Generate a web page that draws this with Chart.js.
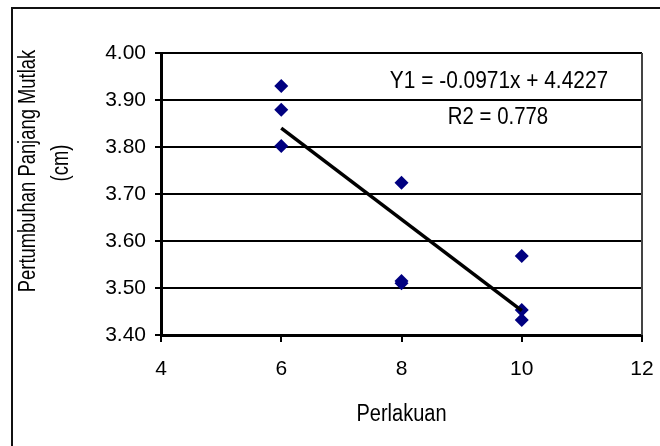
<!DOCTYPE html>
<html>
<head>
<meta charset="utf-8">
<script src="https://cdn.jsdelivr.net/npm/chart.js@4"></script>
<style>
  body { margin: 0; background: #fff; }
  #wrap { width: 660px; height: 446px; }
</style>
</head>
<body>
<div id="wrap"><canvas id="grafico" width="660" height="446"></canvas></div>
<script>
// data
const perlakuan = [6, 6, 6, 8, 8, 8, 10, 10, 10];
const panjang = [3.930, 3.879, 3.802, 3.724, 3.515, 3.510, 3.568, 3.453, 3.432];
const slope = -0.0971;
const intercept = 4.4227;
const trendX = [6, 10];
const yTicks = [3.40, 3.50, 3.60, 3.70, 3.80, 3.90, 4.00];
const xTicks = [4, 6, 8, 10, 12];
const eqText = "Y1 = -0.0971x + 4.4227";
const r2Text = "R2 = 0.778";
const xTitle = "Perlakuan";
const yTitle = ["Pertumbuhan Panjang Mutlak", "(cm)"];

const FONT = "'Liberation Sans', Arial, sans-serif";

// texto comprimido (como en el original)
function narrowText(ctx, txt, x, y, size, sx, rot) {
  ctx.save();
  ctx.translate(x, y);
  if (rot) ctx.rotate(rot);
  ctx.scale(sx, 1);
  ctx.font = size + "px " + FONT;
  ctx.fillStyle = "#000";
  ctx.textAlign = "center";
  ctx.textBaseline = "middle";
  ctx.fillText(txt, 0, 0);
  ctx.restore();
}

const extras = {
  id: "extras",
  beforeDraw(chart) {
    const ctx = chart.ctx;
    ctx.save();
    ctx.fillStyle = "#fff";
    ctx.fillRect(0, 0, chart.width, chart.height);
    ctx.strokeStyle = "#111";
    ctx.lineWidth = 2;
    ctx.strokeRect(12, 8, 800, 600);
    ctx.restore();
  },
  afterDraw(chart) {
    const ctx = chart.ctx;
    const a = chart.chartArea;
    ctx.save();
    ctx.strokeStyle = "#444";
    ctx.lineWidth = 2;
    ctx.beginPath();
    ctx.moveTo(a.right, a.top);
    ctx.lineTo(a.right, a.bottom);
    ctx.stroke();
    ctx.restore();
    narrowText(ctx, eqText, 499, 81, 24, 0.87);
    narrowText(ctx, r2Text, 498, 117, 24, 0.85);
    narrowText(ctx, xTitle, (a.left + a.right) / 2, 415, 23, 0.87);
    narrowText(ctx, yTitle[0], 29, 171, 23, 0.8, -Math.PI / 2);
    narrowText(ctx, yTitle[1], 62, 163, 23, 0.8, -Math.PI / 2);
  }
};

const ctx = document.getElementById("grafico").getContext("2d");
const chart = new Chart(ctx, {
  type: "scatter",
  data: {
    datasets: [
      {
        type: "line",
        label: "Tren",
        data: trendX.map((x) => ({ x: x, y: slope * x + intercept })),
        borderColor: "#000",
        borderWidth: 3.5,
        pointRadius: 0,
        fill: false,
      },
      {
        label: "Data",
        data: perlakuan.map((x, i) => ({ x: x, y: panjang[i] })),
        pointStyle: "rectRot",
        pointRadius: 7,
        pointHoverRadius: 7,
        backgroundColor: "#000080",
        borderColor: "#000080",
        borderWidth: 0,
      },
    ],
  },
  options: {
    responsive: false,
    animation: false,
    devicePixelRatio: 1,
    layout: { padding: { left: 80, top: 53, right: 18, bottom: 0 } },
    plugins: { legend: { display: false }, tooltip: { enabled: false } },
    scales: {
      x: {
        type: "linear",
        min: xTicks[0],
        max: xTicks[xTicks.length - 1],
        afterBuildTicks: (s) => { s.ticks = xTicks.map((v) => ({ value: v })); },
        afterFit: (s) => { s.height = 111; s.paddingLeft = 0; s.paddingRight = 0; },
        ticks: { color: "#000", font: { family: FONT, size: 21 }, padding: 15 },
        grid: { drawOnChartArea: false, color: "#000", lineWidth: 2, tickLength: 7 },
        border: { color: "#000", width: 3 },
      },
      y: {
        min: yTicks[0],
        max: yTicks[yTicks.length - 1],
        afterBuildTicks: (s) => { s.ticks = yTicks.map((v) => ({ value: v })); },
        afterFit: (s) => { s.width = 81; s.paddingTop = 0; s.paddingBottom = 0; },
        ticks: {
          color: "#000",
          font: { family: FONT, size: 21 },
          padding: 9,
          callback: (v) => Number(v).toFixed(2),
        },
        grid: { color: "#000", lineWidth: 2, tickLength: 6 },
        border: { color: "#000", width: 3 },
      },
    },
  },
  plugins: [extras],
});
</script>
</body>
</html>
